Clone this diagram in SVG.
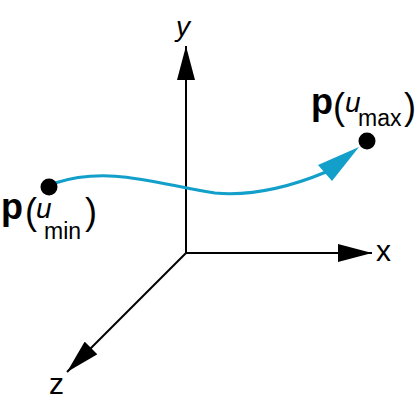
<svg xmlns="http://www.w3.org/2000/svg" width="419" height="404" viewBox="0 0 419 404">
<style>
text{font-family:"Liberation Sans",Arial,sans-serif;fill:#000}
.ax{stroke:#000;stroke-width:2;fill:none}
.crv{stroke:#129fc9;stroke-width:3;fill:none}
.bold{font-weight:bold;font-size:36px}
.par{font-size:36px}
.it{font-style:italic;font-size:28px}
.sub{font-size:23px}
.lab{font-size:30px}
</style>
<defs>
<marker id="ah" viewBox="0 0 34 18" refX="34" refY="9" markerWidth="34" markerHeight="18" markerUnits="userSpaceOnUse" orient="auto">
<path d="M0,0 L34,9 L0,18 Z" fill="#000"/>
</marker>
</defs>
<g id="connectors">
<line class="ax" x1="186" y1="253" x2="186" y2="46" marker-end="url(#ah)"/>
<line class="ax" x1="185" y1="253" x2="372" y2="253" marker-end="url(#ah)"/>
<line class="ax" x1="186" y1="253" x2="67" y2="372" marker-end="url(#ah)"/>
<path class="crv" d="M55 183 C110 165 160 185 215 193 C250 196 290 187 326 172"/>
<polygon points="359,147 318,165 332,181" fill="#129fc9"/>
</g>
<g id="axis-y"><text class="it" x="176" y="36">y</text></g>
<g id="axis-x"><text class="lab" x="376" y="261">x</text></g>
<g id="axis-z"><text class="lab" x="49" y="394">z</text></g>
<g id="p-umin">
<circle cx="49" cy="187" r="8.5" fill="#000"/>
<text class="bold" x="1" y="219">p</text>
<text class="par" x="25" y="224">(</text>
<text class="it" x="36" y="218">u</text>
<text class="sub" x="44" y="239">min</text>
<text class="par" x="85" y="224">)</text>
</g>
<g id="p-umax">
<circle cx="367" cy="141" r="8.5" fill="#000"/>
<text class="bold" x="311" y="114">p</text>
<text class="par" x="333" y="119">(</text>
<text class="it" x="345" y="112">u</text>
<text class="sub" x="358" y="126">max</text>
<text class="par" x="404" y="119">)</text>
</g>
</svg>
